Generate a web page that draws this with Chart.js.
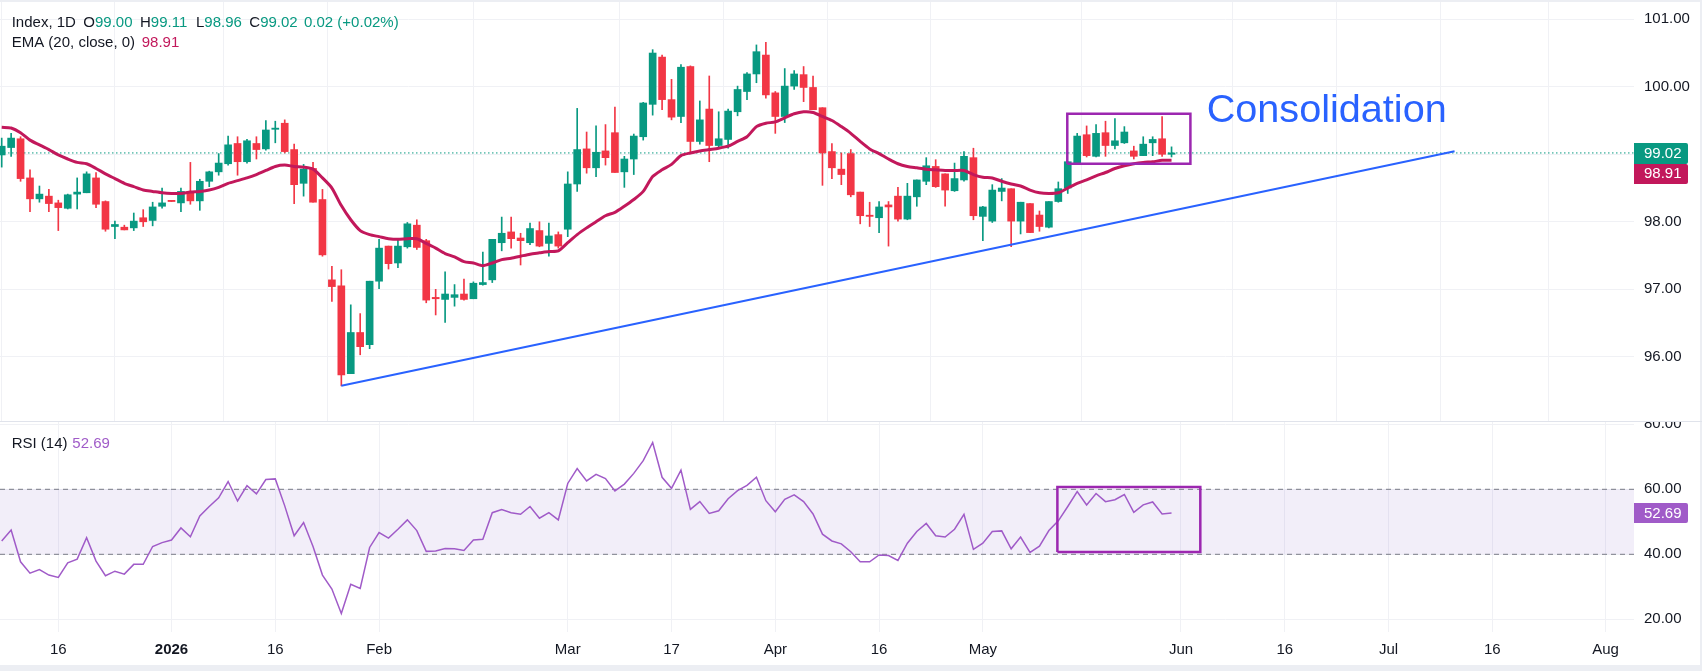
<!DOCTYPE html>
<html><head><meta charset="utf-8">
<script src="https://cdn.jsdelivr.net/npm/chart.js"></script>
<style>
html,body{margin:0;padding:0;background:#fff;}
#wrap{position:relative;width:1702px;height:671px;overflow:hidden;background:#fff;}
#c1{position:absolute;left:0;top:0;}
#c2{position:absolute;left:0;top:421px;}
.strip{position:absolute;background:#eceef3;}
</style></head><body>
<div id="wrap">
<canvas id="c1" width="1702" height="421"></canvas>
<canvas id="c2" width="1702" height="244"></canvas>
<div class="strip" style="left:0;top:0;width:1702px;height:2px"></div>
<div class="strip" style="left:0;top:665px;width:1702px;height:6px"></div>
<div class="strip" style="left:1700px;top:0;width:2px;height:671px"></div>
<div style="position:absolute;left:0;top:421px;width:1702px;height:1px;background:#e0e3eb"></div>
</div>
<script>
// ---------- data ----------
const XMIN = -0.18, XMAX = 173.02;
const tickIdx    = [6, 18, 29, 40, 60, 71, 82, 93, 104, 125, 136, 147, 158, 170];
const tickLabels = ['16','2026','16','Feb','Mar','17','Apr','16','May','Jun','16','Jul','16','Aug'];
const priceTicks = [96, 97, 98, 99, 100, 101];
const rsiTicks   = [20, 40, 60, 80];

const opens = [98.99,99.10,99.23,98.65,98.34,98.38,98.28,98.20,98.41,98.43,
98.65,98.30,97.93,97.92,97.91,98.06,98.02,98.23,98.31,98.28,
98.45,98.31,98.60,98.74,98.86,99.16,98.89,99.16,99.08,99.37,
99.46,99.07,98.57,98.79,98.33,97.14,97.05,95.75,96.36,96.18,
97.12,97.64,97.39,97.63,97.95,97.72,96.88,96.85,96.88,96.93,
96.86,97.07,97.14,97.69,97.85,97.76,97.69,97.87,97.68,97.81,
97.89,98.56,99.08,98.80,99.05,99.32,98.74,98.93,99.26,99.74,
100.44,99.81,99.56,100.30,99.19,99.67,99.13,99.22,99.63,99.93,
100.19,100.47,99.91,99.56,100.01,100.18,99.99,99.69,99.04,98.78,
99.01,98.44,98.09,98.06,98.25,98.38,98.04,98.37,98.60,98.82,
98.71,98.46,98.62,98.95,98.08,98.01,98.45,98.49,98.01,98.27,
98.10,97.92,98.30,98.50,98.86,99.29,98.97,99.32,99.13,99.17,
99.05,98.98,99.17,99.23,99.00];
const highs = [99.24,99.31,99.26,98.77,98.53,98.48,98.32,98.41,98.65,98.74,
98.73,98.31,98.01,97.95,98.13,98.18,98.29,98.50,98.31,98.50,
98.88,98.63,98.75,99.01,99.27,99.26,99.22,99.26,99.50,99.49,
99.51,99.15,98.85,98.88,98.48,97.34,97.29,96.77,96.64,97.12,
97.74,97.64,97.74,97.99,98.03,97.74,97.00,97.26,97.07,97.15,
97.11,97.55,97.74,98.07,98.07,97.83,97.98,98.00,97.98,97.85,
98.74,99.68,99.33,99.42,99.44,99.70,98.97,99.30,99.77,100.55,
100.47,100.11,100.33,100.31,99.79,100.16,99.63,99.67,100.01,100.21,
100.62,100.66,99.93,100.27,100.24,100.30,100.16,99.69,99.16,99.02,
99.07,98.44,98.29,98.30,98.30,98.51,98.57,98.62,98.95,98.92,
98.71,98.87,99.04,99.09,98.23,98.55,98.64,98.49,98.29,98.27,
98.16,98.30,98.59,98.89,99.31,99.42,99.44,99.49,99.53,99.41,
99.12,99.26,99.26,99.56,99.11];
const lows = [98.81,98.97,98.60,98.15,98.29,98.15,97.87,98.19,98.19,98.43,
98.21,97.86,97.75,97.88,97.87,97.93,97.94,98.20,98.30,98.15,
98.26,98.17,98.52,98.69,98.84,98.69,98.87,98.93,99.06,99.17,
99.02,98.27,98.38,98.29,97.49,96.82,95.57,95.75,96.03,96.12,
97.01,97.30,97.32,97.61,97.59,96.80,96.62,96.51,96.75,96.84,
96.86,97.06,97.10,97.57,97.61,97.36,97.66,97.63,97.49,97.61,
97.78,98.45,98.72,98.67,98.84,98.73,98.51,98.70,99.21,99.58,
99.66,99.51,99.47,99.02,99.15,98.89,99.09,99.09,99.57,99.81,
100.06,99.83,99.31,99.47,99.96,99.78,99.66,98.54,98.64,98.55,
98.37,97.97,97.93,97.84,97.64,98.01,98.03,98.23,98.55,98.51,
98.23,98.45,98.60,98.03,97.72,97.99,98.31,97.63,97.82,97.84,
97.86,97.91,98.29,98.42,98.86,98.96,98.96,98.97,99.08,99.16,
98.93,98.98,98.98,98.97,98.96];
const closes = [99.12,99.24,98.64,98.34,98.41,98.27,98.21,98.40,98.44,98.71,
98.26,97.89,97.96,97.88,98.01,98.00,98.22,98.28,98.30,98.45,
98.31,98.60,98.74,98.87,99.14,98.89,99.20,99.07,99.36,99.38,
99.04,98.55,98.78,98.29,97.51,97.04,95.73,96.36,96.15,97.12,
97.61,97.38,97.64,97.97,97.62,96.84,96.86,96.93,96.92,96.85,
97.09,97.10,97.74,97.83,97.75,97.72,97.90,97.64,97.79,97.64,
98.56,99.07,98.80,99.03,98.95,98.73,98.93,99.27,99.76,100.50,
99.81,99.55,100.29,99.19,99.51,99.13,99.23,99.64,99.96,100.19,
100.52,99.88,99.56,100.01,100.19,99.99,99.66,99.02,98.80,98.70,
98.40,98.09,98.08,98.22,98.22,98.04,98.38,98.62,98.83,98.52,
98.47,98.64,98.97,98.09,98.22,98.47,98.50,98.01,98.29,97.84,
97.93,98.30,98.49,98.89,99.27,98.98,99.31,99.13,99.20,99.33,
98.97,99.15,99.22,99.00,99.02];
const ema = [99.40,99.39,99.32,99.21,99.14,99.07,98.99,98.93,98.88,98.86,
98.79,98.71,98.64,98.57,98.52,98.47,98.45,98.43,98.42,98.42,
98.44,98.45,98.47,98.51,98.57,98.61,98.65,98.70,98.76,98.82,
98.84,98.82,98.81,98.78,98.65,98.50,98.24,98.03,97.87,97.81,
97.78,97.75,97.74,97.75,97.75,97.68,97.61,97.53,97.48,97.41,
97.39,97.35,97.39,97.44,97.46,97.49,97.52,97.54,97.56,97.57,
97.69,97.81,97.91,98.00,98.09,98.14,98.23,98.33,98.45,98.67,
98.77,98.85,98.98,99.02,99.05,99.07,99.09,99.12,99.19,99.26,
99.41,99.46,99.48,99.54,99.60,99.63,99.62,99.56,99.50,99.41,
99.31,99.19,99.08,99.01,98.93,98.86,98.82,98.80,98.78,98.77,
98.76,98.76,98.76,98.70,98.66,98.65,98.60,98.56,98.53,98.47,
98.43,98.42,98.43,98.50,98.57,98.62,98.68,98.73,98.79,98.83,
98.86,98.88,98.89,98.91,98.91];
const rsi = [44.1,47.5,37.7,34.2,35.3,33.6,32.9,37.4,38.5,45.1,
37.9,33.4,34.8,33.9,36.9,36.9,42.4,43.6,44.4,48.1,
45.4,51.8,54.7,57.4,62.4,56.4,61.1,58.6,63.0,63.2,
54.9,45.7,49.8,42.4,33.6,29.3,21.8,30.8,29.5,42.1,
46.7,45.0,47.7,50.6,47.3,40.9,41.0,41.8,41.7,41.2,
44.4,44.6,52.8,53.8,52.8,52.3,54.7,51.1,52.8,50.6,
61.8,66.4,62.6,64.6,63.3,59.5,61.6,64.9,68.8,74.4,
63.7,60.3,65.9,53.8,56.2,52.6,53.4,57.1,59.6,61.2,
63.7,56.5,53.1,56.9,58.3,56.2,52.4,46.2,44.1,43.2,
40.8,37.7,37.7,39.8,39.6,38.1,43.4,47.0,49.5,45.7,
45.3,47.7,52.3,41.5,43.4,47.0,47.2,41.7,45.3,40.6,
42.5,47.3,50.3,54.7,59.3,55.2,58.7,56.2,56.8,58.4,
52.9,55.2,56.1,52.4,52.69];

const trendX = [36, 154], trendY = [95.572, 99.045];
const boxX = [112.95, 126.0], boxY = [98.86, 99.60];
const rsiBoxX = [111.9, 127.05], rsiBoxY = [40.7, 60.7];

// ---------- styling ----------
const FONT = 'Liberation Sans';
const DARK = '#131722', GREEN = '#089981', RED = '#f23645';
const EMA_C = '#c2185b', RSI_C = '#a05bc8', BOX_C = '#9c27b0', BLUE = '#2962ff';
const GRID = '#f0f1f5';
Chart.defaults.font.family = FONT;

const idx = opens.map((_, i) => i);
const cols = idx.map(i => closes[i] >= opens[i] ? GREEN : RED);
const rect = (xs, ys) => [{x:xs[0],y:ys[0]},{x:xs[1],y:ys[0]},{x:xs[1],y:ys[1]},{x:xs[0],y:ys[1]},{x:xs[0],y:ys[0]}];
const last = opens.length - 1;

function roundRightBox(ctx, x, y, w, h, r, color) {
  ctx.fillStyle = color;
  ctx.beginPath();
  ctx.moveTo(x, y); ctx.lineTo(x + w - r, y); ctx.quadraticCurveTo(x + w, y, x + w, y + r);
  ctx.lineTo(x + w, y + h - r); ctx.quadraticCurveTo(x + w, y + h, x + w - r, y + h);
  ctx.lineTo(x, y + h); ctx.closePath(); ctx.fill();
}

const priceOverlay = {
  id: 'priceOverlay',
  afterDraw(chart) {
    const ctx = chart.ctx, ys = chart.scales.y;
    ctx.save();
    ctx.font = '15px "' + FONT + '"';
    ctx.textBaseline = 'alphabetic';
    ctx.textAlign = 'left';
    const piece = (x, lab, val, y, vc) => {
      ctx.fillStyle = DARK; ctx.fillText(lab, x, y);
      const w = lab ? ctx.measureText(lab).width : 0;
      ctx.fillStyle = vc; ctx.fillText(val, x + w, y);
    };
    const chg = closes[last] - closes[last - 1];
    const pct = chg / closes[last - 1] * 100;
    piece(11.7, 'Index, 1D', '', 26.5, GREEN);
    piece(83.3, 'O', opens[last].toFixed(2), 26.5, GREEN);
    piece(140, 'H', highs[last].toFixed(2), 26.5, GREEN);
    piece(196, 'L', lows[last].toFixed(2), 26.5, GREEN);
    piece(249.3, 'C', closes[last].toFixed(2), 26.5, GREEN);
    piece(304, '', chg.toFixed(2) + ' (+' + pct.toFixed(2) + '%)', 26.5, GREEN);
    piece(11.7, 'EMA (20, close, 0)', '', 47.3, EMA_C);
    piece(141.7, '', ema[last].toFixed(2), 47.3, EMA_C);

    // Consolidation label
    ctx.font = '40px "' + FONT + '"';
    const w40 = ctx.measureText('Consolidation').width;
    const fs = 40 * 240 / w40;
    ctx.font = fs.toFixed(2) + 'px "' + FONT + '"';
    ctx.fillStyle = BLUE;
    ctx.fillText('Consolidation', 1206.7, 122.3);

    // price labels on axis
    const yc = Math.round(ys.getPixelForValue(closes[last]));
    const bx = chart.chartArea.right;
    roundRightBox(ctx, bx, yc - 10, 54, 21, 2, GREEN);
    roundRightBox(ctx, bx, yc + 11, 54, 20, 2, EMA_C);
    ctx.font = '15px "' + FONT + '"';
    ctx.textBaseline = 'middle';
    ctx.fillStyle = '#ffffff';
    ctx.fillText(closes[last].toFixed(2), bx + 10, yc + 0.5);
    ctx.fillText(ema[last].toFixed(2), bx + 10, yc + 21);
    ctx.restore();
  }
};

const rsiOverlay = {
  id: 'rsiOverlay',
  afterDraw(chart) {
    const ctx = chart.ctx, ys = chart.scales.y;
    ctx.save();
    ctx.font = '15px "' + FONT + '"';
    ctx.textBaseline = 'alphabetic';
    ctx.fillStyle = DARK; ctx.fillText('RSI (14)', 11.7, 26.7);
    ctx.fillStyle = RSI_C; ctx.fillText(rsi[last].toFixed(2), 72.3, 26.7);
    const yc = Math.round(ys.getPixelForValue(rsi[last]));
    const bx = chart.chartArea.right;
    roundRightBox(ctx, bx, yc - 10, 54, 20, 2, RSI_C);
    ctx.textBaseline = 'middle'; ctx.fillStyle = '#ffffff';
    ctx.fillText(rsi[last].toFixed(2), bx + 10, yc + 0.5);
    ctx.restore();
  }
};

const xGrid = (showLabels) => ({
  type: 'linear', min: XMIN, max: XMAX, offset: false,
  afterBuildTicks(s) { s.ticks = tickIdx.map(v => ({ value: v })); },
  afterFit(s) { s.height = showLabels ? 33 : 0; s.paddingLeft = 0; s.paddingRight = 0; },
  ticks: showLabels ? {
    autoSkip: false, maxRotation: 0, minRotation: 0, padding: 9, color: DARK,
    font: (c) => ({ family: FONT, size: 15, weight: (c.tick && tickLabels[tickIdx.indexOf(c.tick.value)] === '2026') ? 'bold' : 'normal' }),
    callback: (v) => { const i = tickIdx.indexOf(v); return i >= 0 ? tickLabels[i] : ''; }
  } : { display: false },
  grid: { color: GRID, drawTicks: false },
  border: { display: false }
});

const yAxis = (min, max, ticksArr, hide) => ({
  position: 'right', min: min, max: max,
  afterFit(s) { s.width = 68; s.paddingTop = 0; s.paddingBottom = 0; },
  afterBuildTicks(s) { s.ticks = ticksArr.map(v => ({ value: v })); },
  ticks: { padding: 10, color: DARK, font: { family: FONT, size: 15 },
    callback: (v) => v === hide ? '' : Number(v).toFixed(2) },
  grid: { color: GRID, drawTicks: false },
  border: { display: false }
});

// ---------- price chart ----------
new Chart(document.getElementById('c1'), {
  type: 'bar',
  data: {
    datasets: [
      { type: 'line', order: 6, data: [{x: XMIN, y: closes[last]}, {x: XMAX, y: closes[last]}],
        borderColor: GREEN, borderWidth: 1, borderDash: [1.5, 2.5], pointRadius: 0 },
      { type: 'bar', order: 5, grouped: false, barThickness: 1, minBarLength: 1,
        data: idx.map(i => ({ x: i, y: [lows[i], highs[i]] })), backgroundColor: cols, borderWidth: 0 },
      { type: 'bar', order: 4, grouped: false, barThickness: 7, minBarLength: 1.2,
        data: idx.map(i => ({ x: i, y: [opens[i], closes[i]] })), backgroundColor: cols, borderWidth: 0 },
      { type: 'line', order: 3, data: idx.map(i => ({ x: i, y: ema[i] })),
        borderColor: EMA_C, borderWidth: 3, pointRadius: 0, tension: 0.25 },
      { type: 'line', order: 2, data: [{x: trendX[0], y: trendY[0]}, {x: trendX[1], y: trendY[1]}],
        borderColor: BLUE, borderWidth: 2, pointRadius: 0 },
      { type: 'line', order: 1, data: rect(boxX, boxY),
        borderColor: BOX_C, borderWidth: 2.5, pointRadius: 0, tension: 0 }
    ]
  },
  options: {
    responsive: false, animation: false, devicePixelRatio: 1,
    layout: { padding: { top: 2, left: 0, right: 0, bottom: 0 } },
    plugins: { legend: { display: false }, tooltip: { enabled: false } },
    scales: { x: xGrid(false), y: yAxis(95.049, 101.256, priceTicks, 99) }
  },
  plugins: [priceOverlay]
});

// ---------- RSI chart ----------
new Chart(document.getElementById('c2'), {
  type: 'line',
  data: {
    datasets: [
      { order: 5, data: [{x: XMIN, y: 60}, {x: XMAX, y: 60}], borderColor: '#787b86', borderWidth: 1,
        borderDash: [5, 4], pointRadius: 0, fill: '+1', backgroundColor: 'rgba(126,87,194,0.1)' },
      { order: 4, data: [{x: XMIN, y: 40}, {x: XMAX, y: 40}], borderColor: '#787b86', borderWidth: 1,
        borderDash: [5, 4], pointRadius: 0, fill: false },
      { order: 2, data: idx.map(i => ({ x: i, y: rsi[i] })), borderColor: RSI_C, borderWidth: 1.5,
        pointRadius: 0, fill: false, tension: 0 },
      { order: 1, data: rect(rsiBoxX, rsiBoxY), borderColor: BOX_C, borderWidth: 2.5,
        pointRadius: 0, fill: false, tension: 0 }
    ]
  },
  options: {
    responsive: false, animation: false, devicePixelRatio: 1,
    layout: { padding: { top: 1, left: 0, right: 0, bottom: 0 } },
    plugins: { legend: { display: false }, tooltip: { enabled: false } },
    scales: { x: xGrid(true), y: yAxis(16.09, 80.71, rsiTicks, null) }
  },
  plugins: [rsiOverlay]
});
</script>
</body></html>
